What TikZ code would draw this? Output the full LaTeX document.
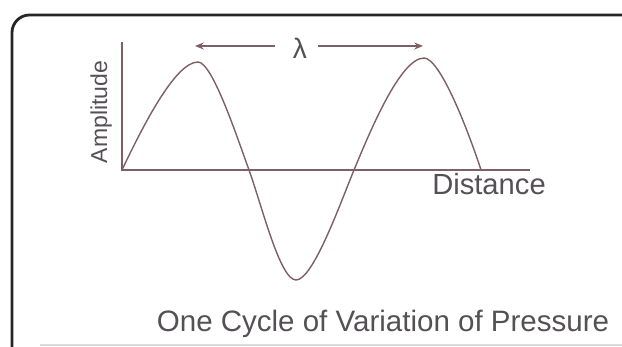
\documentclass[tikz,border=0pt]{standalone}
\usepackage{fontspec}
\setmainfont{Liberation Sans}
\usetikzlibrary{arrows.meta}
\definecolor{wavecol}{RGB}{125,95,100}
\definecolor{txtcol}{RGB}{85,80,85}
\begin{document}
\begin{tikzpicture}[x=0.02cm, y=-0.02cm]
        \tikzstyle{lbl} = [text=txtcol, inner sep=0pt]
        \tikzstyle{curve} = [draw=wavecol, line width=0.8pt]
        \useasboundingbox (0,0) rectangle (622,347);
        % frame
        \draw [line width=1.6pt, black!85, rounded corners=10] (625,15) -- (12,15) -- (12,352);
        \draw [line width=1pt, black!15] (40,345) -- (622,345);
        % axes
        \coordinate (o) at (122,170);
        \coordinate (ytop) at (122,42);
        \coordinate (xend) at (530,170);
        \draw [curve] (ytop) -- (o) -- (xend);
        % wave
        \coordinate (p1) at (198,62);
        \coordinate (c1) at (249,170);
        \coordinate (t1) at (296,280);
        \coordinate (c2) at (354,170);
        \coordinate (p2) at (424,58);
        \coordinate (w) at (481,170);
        \draw [curve] (o) .. controls (142,128) and (175,62) .. (p1)
            .. controls (212,62) and (236,134) .. (c1)
            .. controls (262,206) and (280,280) .. (t1)
            .. controls (313,280) and (340,204) .. (c2)
            .. controls (369,134) and (400,58) .. (p2)
            .. controls (440,58) and (468,130) .. (w);
        % labels
        \node [lbl, font=\fontsize{16}{16}\selectfont] (lam) at (300,48) {λ};
        \coordinate (lamL) at (195,46);
        \coordinate (lamR) at (423,46);
        \draw [wavecol, line width=0.7pt, -{Stealth[length=5pt,width=4pt]}] ([xshift=-14pt]lam.center |- lamL) -- (lamL);
        \draw [wavecol, line width=0.7pt, -{Stealth[length=5pt,width=4pt]}] ([xshift=10pt]lam.center |- lamR) -- (lamR);
        \node [lbl, font=\fontsize{13.1}{13}\selectfont, rotate=90, anchor=base] (amp) at (107,112) {Amplitude};
        \node [lbl, font=\fontsize{16.6}{16}\selectfont, anchor=base] (dist) at (489,195) {Distance};
        \node [lbl, font=\fontsize{16.8}{17}\selectfont, anchor=base] (cap) at (383,332) {One Cycle of Variation of Pressure};
    \end{tikzpicture}
\end{document}
